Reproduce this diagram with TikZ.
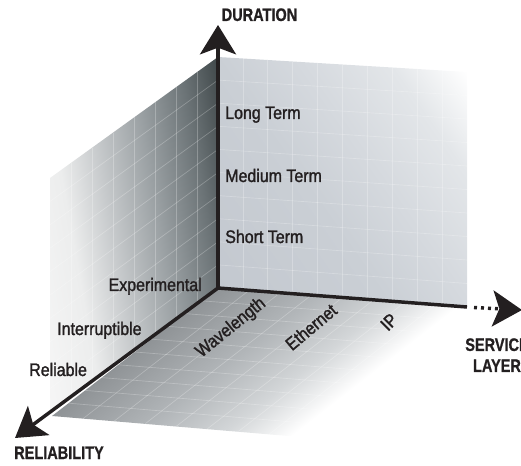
\documentclass[tikz,border=0pt]{standalone}
\usepackage{fontspec}
\setmainfont{Liberation Sans}[FakeStretch=0.88, FakeBold=1.5]
\newfontfamily\axisfont{Liberation Sans}[FakeStretch=0.8, FakeBold=0.8]
\usetikzlibrary{arrows.meta,calc}
\definecolor{ink}{HTML}{231F20}
% left wall colours
\definecolor{lwA}{HTML}{F6F6F6}
\definecolor{lwB}{HTML}{ECEDED}
\definecolor{lwC}{HTML}{C8CBCD}
\definecolor{lwD}{HTML}{9AA0A3}
\definecolor{lwE}{HTML}{6B7376}
\definecolor{lwF}{HTML}{3F4749}
% back wall colours
\definecolor{bwA}{HTML}{C3C8CF}
\definecolor{bwB}{HTML}{CACFD5}
\definecolor{bwC}{HTML}{D5D9DE}
\definecolor{bwD}{HTML}{E3E6E9}
\definecolor{bwE}{HTML}{FFFFFF}
% floor colours
\definecolor{flA}{HTML}{8F9396}
\definecolor{flB}{HTML}{B2B6B9}
\definecolor{flC}{HTML}{D3D6D8}
\definecolor{flD}{HTML}{FFFFFF}
\pgfdeclarehorizontalshading{lwshade}{100bp}{color(0bp)=(lwA); color(25bp)=(lwA); color(36.5bp)=(lwB); color(45bp)=(lwC); color(56bp)=(lwD); color(66.5bp)=(lwE); color(75bp)=(lwF); color(100bp)=(lwF)}
\pgfdeclarehorizontalshading{bwshade}{100bp}{color(0bp)=(bwA); color(25bp)=(bwA); color(45bp)=(bwB); color(55bp)=(bwC); color(66bp)=(bwD); color(75bp)=(bwE); color(100bp)=(bwE)}
\pgfdeclarehorizontalshading{flshade}{100bp}{color(0bp)=(flA); color(25bp)=(flA); color(45bp)=(flB); color(60bp)=(flC); color(73bp)=(flD); color(100bp)=(flD)}
\begin{document}
\begin{tikzpicture}[x=0.75pt,y=-0.75pt,
  lbl/.style={inner sep=0pt, text=ink, font=\fontsize{13.6}{16}\selectfont},
  axlbl/.style={inner sep=0pt, text=ink, align=center, font=\axisfont\bfseries\fontsize{13.6}{15.75}\selectfont},
  axisline/.style={draw=ink, line width=2.6pt},
  bigtip/.style={-{Stealth[length=22pt,width=27pt,inset=5pt]}},
  gridline/.style={draw=white, opacity=0.25, line width=0.5pt}]
\useasboundingbox (0,0) rectangle (521,466);
\coordinate (O) at (218,288);
\coordinate (BWtl) at (218,57);
\coordinate (BWtr) at (467,72);
\coordinate (BWbr) at (467,307);
\coordinate (LWtl) at (50,178);
\coordinate (LWbl) at (50,412);
\coordinate (FLbr) at (300,437);
\coordinate (FLbl) at (52,416);
\coordinate (Dtip) at (218,25);
\coordinate (Rtip) at (15,438);
\coordinate (Sdot) at (474,307.5);
\coordinate (Stip) at (522,310);
% left wall
\begin{scope}
  \clip (BWtl) -- (LWtl) -- (LWbl) -- (O) -- cycle;
  \shade[shading=lwshade, transform canvas={rotate around={10:(134,233.75)}}]
    (20,68.75) rectangle (248,398.75);
  \foreach \t in {0.125,0.25,...,0.9}
    \draw[gridline] ($(LWtl)!\t!(BWtl)$) -- ($(LWbl)!\t!(O)$);
  \foreach \t in {0.1,0.2,...,0.95}
    \draw[gridline] ($(LWtl)!\t!(LWbl)$) -- ($(BWtl)!\t!(O)$);
\end{scope}
% back wall
\begin{scope}
  \clip (BWtl) -- (BWtr) -- (BWbr) -- (O) -- cycle;
  \shade[shading=bwshade, transform canvas={rotate around={35:(342.5,181)}}]
    (177.5,6) rectangle (507.5,356);
  \foreach \t in {0.1,0.2,...,0.95}
    \draw[gridline] ($(BWtl)!\t!(BWtr)$) -- ($(O)!\t!(BWbr)$);
  \foreach \t in {0.1,0.2,...,0.95}
    \draw[gridline] ($(BWtl)!\t!(O)$) -- ($(BWtr)!\t!(BWbr)$);
\end{scope}
% floor
\begin{scope}
  \clip (O) -- (BWbr) -- (FLbr) -- (FLbl) -- cycle;
  \shade[shading=flshade, transform canvas={rotate around={-52.1:(259.25,362)}}]
    (174.25,162) rectangle (344.25,562);
  \foreach \t in {0.125,0.25,...,0.9}
    \draw[gridline] ($(O)!\t!(BWbr)$) -- ($(FLbl)!\t!(FLbr)$);
  \foreach \t in {0.1,0.2,...,0.95}
    \draw[gridline] ($(O)!\t!(FLbl)$) -- ($(BWbr)!\t!(FLbr)$);
\end{scope}
% axes
\draw[axisline, bigtip] (O) -- (Dtip);
\draw[axisline, bigtip] (O) -- (Rtip);
\draw[axisline] (O) -- (BWbr);
\draw[axisline, bigtip, dash pattern=on 2.25pt off 3pt] (Sdot) -- (Stip);
% labels
\node[axlbl, anchor=base] (dur) at (259.5,21) {DURATION};
\node[axlbl, anchor=base west] (rel) at (14,459) {RELIABILITY};
\node[axlbl, anchor=north] (svc) at (497,338) {SERVICE\\LAYER};
\node[lbl, anchor=base west] (lt) at (225,119) {Long Term};
\node[lbl, anchor=base west] (mt) at (225,182) {Medium Term};
\node[lbl, anchor=base west] (st) at (225,243) {Short Term};
\node[lbl, anchor=base east] (ex) at (202,291) {Experimental};
\node[lbl, anchor=base west] (in) at (57,335) {Interruptible};
\node[lbl, anchor=base west] (rl) at (29,376) {Reliable};
\node[lbl, rotate=39] (wl) at (231,328) {Wavelength};
\node[lbl, rotate=40] (et) at (311,327) {Ethernet};
\node[lbl, rotate=45] (ip) at (389,322) {IP};
\end{tikzpicture}
\end{document}
